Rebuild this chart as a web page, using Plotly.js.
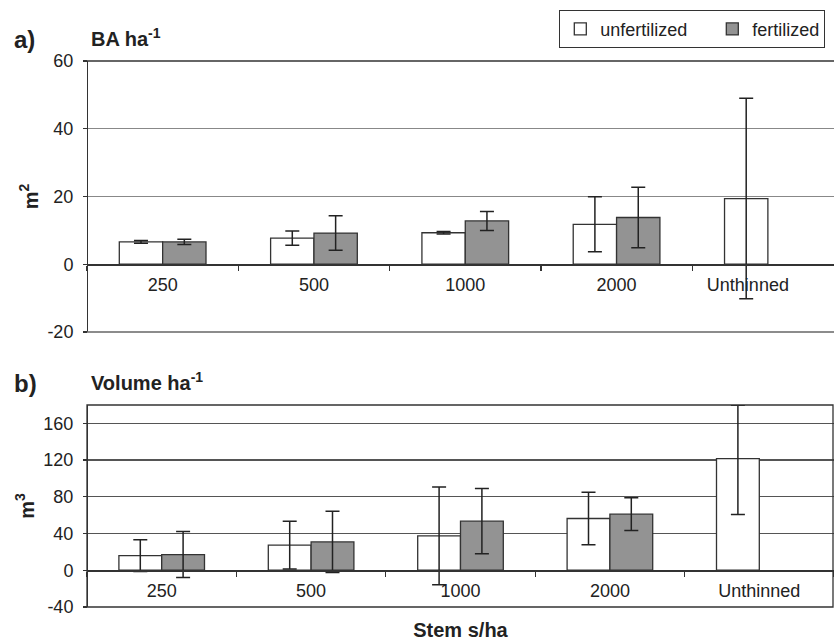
<!DOCTYPE html>
<html>
<head>
<meta charset="utf-8">
<script src="https://cdn.plot.ly/plotly-3.0.1.min.js"></script>
<style>html,body{margin:0;padding:0;background:#fff;}#chart{width:834px;height:641px;}</style>
</head>
<body>
<div id="chart"></div>
<script>
// Categories (stems per hectare)
const categories = ['250', '500', '1000', '2000', 'Unthinned'];
// Tick labels of the upper panel (last label sits left of its slot in the original)
const baCatLabels = ['250', '500', '1000', '2000', 'Unthinned\u00a0\u00a0\u00a0\u00a0\u00a0\u00a0\u00a0\u00a0'];

// a) Basal area per ha (m2)
const baUnfert = [6.6, 7.7, 9.3, 11.8, 19.4];
const baUnfertErr = [0.4, 2.1, 0.4, 8.1, 29.6];
const baFert = [6.6, 9.2, 12.8, 13.8, null];
const baFertErr = [0.8, 5.1, 2.8, 8.9, null];

// b) Volume per ha (m3)
const volUnfert = [16.0, 27.3, 37.5, 56.4, 121.5];
const volUnfertErrPlus = [17.3, 26.0, 53.3, 28.7, 58.3];
const volUnfertErrMinus = [17.3, 26.0, 53.3, 28.7, 60.8];
const volFert = [17.1, 30.9, 53.5, 61.1, null];
const volFertErr = [25.0, 33.3, 35.6, 17.8, null];

const baTicks = [-20, 0, 20, 40, 60];
const baTickText = ['-20', '0', '20', '40', '60'];
const volTicks = [-40, 0, 40, 80, 120, 160];
const volTickText = ['-40', '0', '40', '80', '120', '160'];

const FONT = 'Liberation Sans, Arial, sans-serif';
const barLine = {color: '#333', width: 1.3};
const errStyle = {type: 'data', visible: true, color: '#222', thickness: 1.5, width: 7};

const traces = [
  {type: 'bar', name: 'unfertilized', x: categories, y: baUnfert, xaxis: 'x', yaxis: 'y',
   marker: {color: '#ffffff', line: barLine}, error_y: Object.assign({array: baUnfertErr}, errStyle),
   legendgroup: 'u', showlegend: true, legendwidth: 107},
  {type: 'bar', name: 'fertilized', x: categories, y: baFert, xaxis: 'x', yaxis: 'y',
   marker: {color: '#939393', line: barLine}, error_y: Object.assign({array: baFertErr}, errStyle),
   legendgroup: 'f', showlegend: true, legendwidth: 66},
  {type: 'bar', name: 'unfertilized', x: categories, y: volUnfert, xaxis: 'x2', yaxis: 'y2',
   marker: {color: '#ffffff', line: barLine},
   error_y: Object.assign({symmetric: false, array: volUnfertErrPlus, arrayminus: volUnfertErrMinus}, errStyle),
   legendgroup: 'u', showlegend: false},
  {type: 'bar', name: 'fertilized', x: categories, y: volFert, xaxis: 'x2', yaxis: 'y2',
   marker: {color: '#939393', line: barLine}, error_y: Object.assign({array: volFertErr}, errStyle),
   legendgroup: 'f', showlegend: false}
];

const H = 641;
const topDom = [1 - 332 / H, 1 - 61 / H];
const botDom = [1 - 607 / H, 1 - 405 / H];
const topZero = topDom[0] + (0 - (-20)) / 80 * (topDom[1] - topDom[0]);
const botZero = botDom[0] + (0 - (-40)) / 220 * (botDom[1] - botDom[0]);

const xCommon = {
  type: 'category', anchor: 'free', showline: true, linecolor: '#333', linewidth: 1.3,
  ticks: 'outside', tickson: 'boundaries', ticklen: 5, tickcolor: '#333', tickwidth: 1.3,
  showgrid: false, zeroline: false, tickfont: {size: 18, color: '#222'}, ticklabelstandoff: 4,
  automargin: false
};
const yCommon = {
  anchor: 'free', position: 0, showline: true, linecolor: '#333', linewidth: 1.3,
  ticks: 'outside', ticklen: 4, tickcolor: '#333', tickwidth: 1.3, tickmode: 'array',
  showgrid: true, gridwidth: 1.3, zeroline: false, tickfont: {size: 18, color: '#222'},
  ticklabelstandoff: 6, automargin: false
};

const layout = {
  width: 834, height: 641,
  margin: {l: 87, r: 0, t: 0, b: 0},
  paper_bgcolor: '#fff', plot_bgcolor: '#fff',
  font: {family: FONT, size: 18, color: '#222'},
  barmode: 'group', bargap: 0.427, bargroupgap: 0,
  showlegend: true,
  legend: {orientation: 'h', x: 0.632, xanchor: 'left', y: 1 - 9.5 / H, yanchor: 'top',
           bgcolor: '#fff', bordercolor: '#333', borderwidth: 1.2,
           font: {size: 18, color: '#222'}, traceorder: 'normal'},
  xaxis: Object.assign({}, xCommon, {domain: [0, 1], range: [-0.5, 4.437], position: topZero,
          tickmode: 'array', tickvals: categories, ticktext: baCatLabels}),
  yaxis: Object.assign({}, yCommon, {domain: topDom, range: [-20, 60], tickvals: baTicks,
          ticktext: baTickText, gridcolor: '#888',
          title: {text: 'm<sup>2</sup>', font: {size: 20, weight: 'bold', color: '#222'}, standoff: 2}}),
  xaxis2: Object.assign({}, xCommon, {domain: [0, 1], range: [-0.5, 4.5], position: botZero,
          title: {text: 'Stem s/ha', font: {size: 20, weight: 'bold', color: '#222'}, standoff: 24}}),
  yaxis2: Object.assign({}, yCommon, {domain: botDom, range: [-40, 180], tickvals: volTicks,
          ticktext: volTickText, gridcolor: '#555',
          title: {text: 'm<sup>3</sup>', font: {size: 20, weight: 'bold', color: '#222'}, standoff: 2}}),
  shapes: [
    {type: 'line', xref: 'paper', yref: 'paper', x0: 0, x1: 1, y0: topDom[1], y1: topDom[1],
     line: {color: '#333', width: 1.5}},
    {type: 'line', xref: 'paper', yref: 'paper', x0: 0, x1: 1, y0: topDom[0], y1: topDom[0],
     line: {color: '#666', width: 1.3}},
    {type: 'rect', xref: 'paper', yref: 'paper', x0: 0, x1: 746 / 747, y0: botDom[0], y1: botDom[1],
     line: {color: '#333', width: 1.3}}
  ],
  annotations: [
    {text: '<b>a)</b>', xref: 'paper', yref: 'paper', x: -75 / 747, y: 1 - 40 / H,
     xanchor: 'left', yanchor: 'middle', showarrow: false, font: {size: 24, color: '#222'}},
    {text: '<b>BA ha<sup>-1</sup></b>', xref: 'paper', yref: 'paper', x: 2 / 747, y: 1 - 37 / H,
     xanchor: 'left', yanchor: 'middle', showarrow: false, font: {size: 20, color: '#222'}},
    {text: '<b>b)</b>', xref: 'paper', yref: 'paper', x: -75 / 747, y: 1 - 383 / H,
     xanchor: 'left', yanchor: 'middle', showarrow: false, font: {size: 24, color: '#222'}},
    {text: '<b>Volume ha<sup>-1</sup></b>', xref: 'paper', yref: 'paper', x: 2 / 747, y: 1 - 381 / H,
     xanchor: 'left', yanchor: 'middle', showarrow: false, font: {size: 20, color: '#222'}}
  ]
};

Plotly.newPlot('chart', traces, layout, {staticPlot: true, displayModeBar: false});
</script>
</body>
</html>
